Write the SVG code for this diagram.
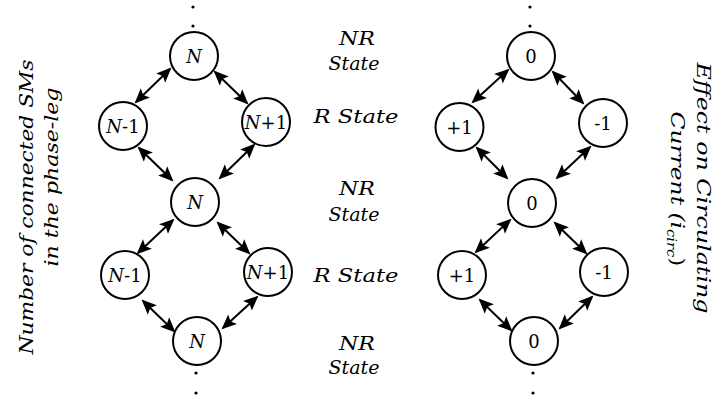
<svg xmlns="http://www.w3.org/2000/svg" width="715" height="401" viewBox="0 0 715 401">
<style>
.node circle{fill:#fff;stroke:#000;stroke-width:2}
.lbl{font-size:18px;text-anchor:middle}
.it{font-style:italic}
.side{font-size:19px;font-style:italic;text-anchor:middle}
.conn line{stroke:#000;stroke-width:2;marker-start:url(#ahs);marker-end:url(#ahe)}
.dot{fill:#000}
</style>
<defs>
<marker id="ahe" markerUnits="userSpaceOnUse" markerWidth="15" markerHeight="14" refX="13" refY="7" orient="auto" overflow="visible">
<path d="M0,0.5 L15,7 L0,13.5 L3,7 z" fill="#000"/>
</marker>
<marker id="ahs" markerUnits="userSpaceOnUse" markerWidth="15" markerHeight="14" refX="2" refY="7" orient="auto" overflow="visible">
<path d="M15,0.5 L0,7 L15,13.5 L12,7 z" fill="#000"/>
</marker>
</defs>
<g id="conn" class="conn">
<line x1="170" y1="69" x2="136" y2="102"/>
<line x1="215" y1="72" x2="247" y2="103"/>
<line x1="139" y1="148" x2="172" y2="180"/>
<line x1="254" y1="145" x2="220" y2="178"/>
<line x1="173" y1="220" x2="138" y2="253"/>
<line x1="218" y1="223" x2="249" y2="253"/>
<line x1="143" y1="301" x2="174" y2="331"/>
<line x1="257" y1="297" x2="223" y2="328"/>
<line x1="508" y1="70" x2="473" y2="102"/>
<line x1="553" y1="72" x2="583" y2="103"/>
<line x1="477" y1="148" x2="507" y2="178"/>
<line x1="590" y1="147" x2="557" y2="178"/>
<line x1="510" y1="220" x2="476" y2="252"/>
<line x1="555" y1="223" x2="586" y2="253"/>
<line x1="480" y1="300" x2="511" y2="330"/>
<line x1="592" y1="297" x2="560" y2="328"/>
</g>
<g id="dots">
<circle class="dot" cx="193" cy="7" r="1.6"/><circle class="dot" cx="193" cy="26" r="1.6"/>
<circle class="dot" cx="196" cy="373" r="1.6"/><circle class="dot" cx="196" cy="393" r="1.6"/>
<circle class="dot" cx="530" cy="7" r="1.6"/><circle class="dot" cx="530" cy="26" r="1.6"/>
<circle class="dot" cx="533" cy="373" r="1.6"/><circle class="dot" cx="533" cy="393" r="1.6"/>
</g>
<g font-family="'DejaVu Serif', serif" fill="#000">
<g id="nL1" class="node"><circle cx="194" cy="56" r="24"/><text class="lbl it" x="194" y="62.5">N</text></g>
<g id="nL2" class="node"><circle cx="123" cy="126" r="24"/><text class="lbl" x="123" y="132.5"><tspan class="it">N</tspan>-1</text></g>
<g id="nL3" class="node"><circle cx="266" cy="122" r="24"/><text class="lbl" x="266" y="128.5"><tspan class="it">N</tspan>+1</text></g>
<g id="nL4" class="node"><circle cx="195" cy="202" r="24"/><text class="lbl it" x="195" y="208.5">N</text></g>
<g id="nL5" class="node"><circle cx="125" cy="275" r="24"/><text class="lbl" x="125" y="281.5"><tspan class="it">N</tspan>-1</text></g>
<g id="nL6" class="node"><circle cx="268" cy="272" r="24"/><text class="lbl" x="268" y="278.5"><tspan class="it">N</tspan>+1</text></g>
<g id="nL7" class="node"><circle cx="197" cy="341" r="24"/><text class="lbl it" x="197" y="347.5">N</text></g>
<g id="nR1" class="node"><circle cx="531" cy="56" r="24"/><text class="lbl" x="531" y="62.5">0</text></g>
<g id="nR2" class="node"><circle cx="459.5" cy="127" r="24"/><text class="lbl" x="459.5" y="133.5">+1</text></g>
<g id="nR3" class="node"><circle cx="603" cy="123" r="24"/><text class="lbl" x="603" y="129.5">-1</text></g>
<g id="nR4" class="node"><circle cx="532" cy="203" r="24"/><text class="lbl" x="532" y="209.5">0</text></g>
<g id="nR5" class="node"><circle cx="462" cy="275" r="24"/><text class="lbl" x="462" y="281.5">+1</text></g>
<g id="nR6" class="node"><circle cx="604" cy="272" r="24"/><text class="lbl" x="604" y="278.5">-1</text></g>
<g id="nR7" class="node"><circle cx="534" cy="341" r="24"/><text class="lbl" x="534" y="347.5">0</text></g>
<g id="states">
<text class="side" x="357" y="45" textLength="36" lengthAdjust="spacingAndGlyphs">NR</text>
<text class="side" x="354" y="70" textLength="51" lengthAdjust="spacingAndGlyphs">State</text>
<text class="side" x="356" y="123" textLength="85" lengthAdjust="spacingAndGlyphs">R State</text>
<text class="side" x="357" y="195" textLength="36" lengthAdjust="spacingAndGlyphs">NR</text>
<text class="side" x="354" y="221" textLength="51" lengthAdjust="spacingAndGlyphs">State</text>
<text class="side" x="356" y="282" textLength="85" lengthAdjust="spacingAndGlyphs">R State</text>
<text class="side" x="357" y="350" textLength="36" lengthAdjust="spacingAndGlyphs">NR</text>
<text class="side" x="354" y="374" textLength="51" lengthAdjust="spacingAndGlyphs">State</text>
</g>
<g id="axisL">
<text class="side" transform="translate(33,207) rotate(-90)" textLength="295" lengthAdjust="spacingAndGlyphs">Number of connected SMs</text>
<text class="side" transform="translate(58,177) rotate(-90)" textLength="179" lengthAdjust="spacingAndGlyphs">in the phase-leg</text>
</g>
<g id="axisR">
<text class="side" transform="translate(697,188) rotate(90)" textLength="251" lengthAdjust="spacingAndGlyphs">Effect on Circulating</text>
<text class="side" transform="translate(671,189) rotate(90)" textLength="155" lengthAdjust="spacingAndGlyphs">Current (i<tspan font-size="12" dy="4">circ</tspan><tspan dy="-4" font-style="normal">)</tspan></text>
</g>
</g>
</svg>
